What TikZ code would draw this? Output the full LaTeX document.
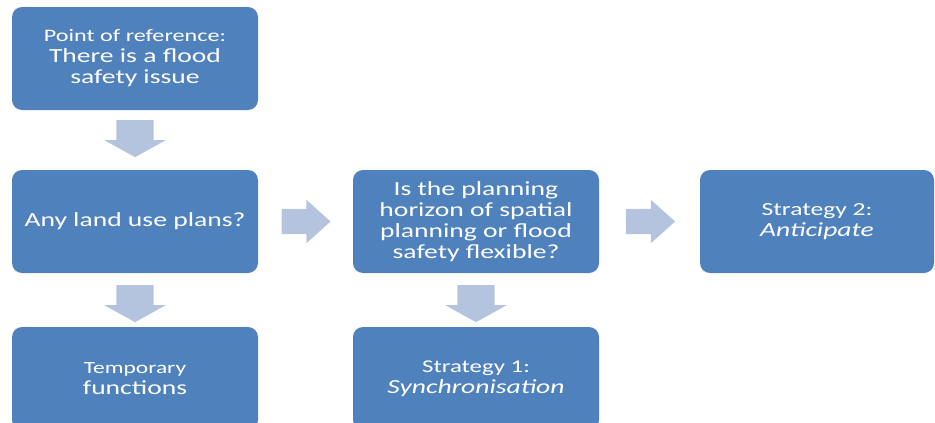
\documentclass[tikz,border=0pt]{standalone}
\usepackage{fontspec}
\setmainfont{Carlito}[FakeStretch=1.38]
\usetikzlibrary{shapes.arrows}
\definecolor{boxblue}{RGB}{79,129,189}
\definecolor{arrowblue}{RGB}{180,196,223}
\tikzset{
  block/.style={fill=boxblue, rounded corners=10pt, text=white, align=center,
    minimum width=246pt, minimum height=103pt, inner sep=0pt,
    font=\fontsize{20}{21}\selectfont},
  fatdown/.style={single arrow, fill=arrowblue, inner sep=0pt, inner ysep=18.5pt,
    minimum height=37pt, minimum width=61pt, single arrow head extend=12pt,
    single arrow tip angle=122, rotate=-90},
  fatright/.style={single arrow, fill=arrowblue, inner sep=0pt, inner ysep=12.5pt,
    minimum height=49pt, minimum width=43pt, single arrow head extend=9pt,
    single arrow tip angle=84}
}
\begin{document}
\begin{tikzpicture}[x=1pt,y=-1pt]
    \useasboundingbox (0,0) rectangle (935,423);
    \clip (0,0) rectangle (935,423);
    \node [block] (ref) at (135,58.5) {{\fontsize{17.5}{21}\selectfont Point of reference:}\\There is a flood\\safety issue};
    \node [block] (plans) at (135,221.5) {Any land use plans?};
    \node [block] (horizon) at (476,221.5) {Is the planning\\horizon of spatial\\planning or flood\\safety flexible?};
    \node [block, minimum width=234pt] (strat2) at (817,221.5) {\fontsize{18.5}{18}\selectfont Strategy 2:\\\textit{Anticipate}};
    \node [block] (temp) at (135,378.5) {\fontsize{17}{25}\selectfont Temporary\\functions};
    \node [block] (strat1) at (476,378.5) {\fontsize{18}{20}\selectfont Strategy 1:\\\textit{Synchronisation}};
    \path (ref) -- node [yshift=6.5pt, fatdown] (d1) {} (plans);
    \path (plans) -- node [yshift=1.5pt, fatdown] (d2) {} (temp);
    \path (horizon) -- node [yshift=1.5pt, fatdown] (d3) {} (strat1);
    \path (plans) -- node [xshift=-6.5pt, fatright] (r1) {} (horizon);
    \path (horizon) -- node [xshift=-6pt, fatright] (r2) {} (strat2);
\end{tikzpicture}
\end{document}
